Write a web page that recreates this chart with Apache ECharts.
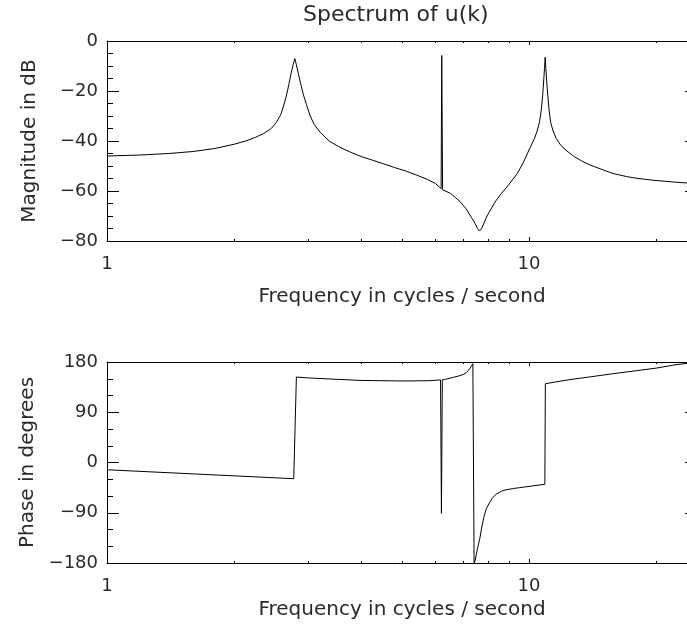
<!DOCTYPE html>
<html>
<head>
<meta charset="utf-8">
<title>Spectrum of u(k)</title>
<script src="https://cdn.jsdelivr.net/npm/echarts@6/dist/echarts.min.js"></script>
<style>
html, body { margin: 0; padding: 0; background: #fff; }
#main { width: 687px; height: 626px; }
</style>
</head>
<body>
<div id="main"></div>
<script>
// frequency axis (log)
var freqMin = 1;
var freqMax = 25;
var freqLabels = [1, 10];
var freqMinor = [2, 3, 4, 5, 6, 7, 8, 9, 20];

// magnitude panel
var magMin = -80, magMax = 0, magStep = 20, magMinorSplit = 4;
var magFreq = [1.0, 1.2, 1.4, 1.6, 1.8, 2.0, 2.13, 2.25, 2.35, 2.45, 2.52, 2.58, 2.62, 2.66, 2.7, 2.73, 2.76, 2.786,
	2.81, 2.84, 2.88, 2.92, 2.97, 3.03, 3.1, 3.2, 3.36, 3.56, 3.78, 4.0, 4.26, 4.5, 4.8, 5.1, 5.41, 5.75, 6.0, 6.19, 6.21, 6.24,
	6.52, 6.87, 7.1, 7.3, 7.45, 7.55, 7.63, 7.72, 7.82, 7.95, 8.1, 8.3, 8.54, 8.9, 9.38, 9.7, 10.06, 10.3, 10.45, 10.6, 10.7,
	10.78, 10.84, 10.88, 10.92, 10.96, 11.01, 11.08, 11.16, 11.25, 11.4, 11.6, 11.9, 12.3, 12.8, 13.4, 14.0, 15.0, 15.8,
	17.0, 17.8, 19.0, 20.0, 22.0, 25.0];
var magDb = [-46.0, -45.6, -45.0, -44.2, -43.0, -41.3, -40.0, -38.5, -37.0, -35.0, -32.5, -29.5, -26.0, -22.0, -17.0, -13.0, -9.5, -7.0,
	-9.5, -13.0, -17.5, -21.5, -25.5, -30.0, -33.5, -36.5, -40.0, -42.5, -44.5, -46.2, -47.7, -49.0, -50.6, -52.0, -53.6, -55.4, -57.0, -59.0, -5.8, -59.5,
	-61.0, -64.3, -67.2, -70.5, -73.0, -75.0, -76.0, -75.0, -72.8, -70.0, -67.6, -64.5, -61.6, -58.0, -53.0, -48.5, -42.6, -39.0, -36.0, -32.0, -27.0,
	-21.0, -15.0, -11.0, -6.5, -11.0, -16.0, -22.0, -28.0, -32.5, -36.0, -39.0, -41.8, -44.0, -46.3, -48.2, -49.7, -51.6, -53.0,
	-54.2, -54.8, -55.4, -55.8, -56.4, -57.1];

// phase panel
var phaseMin = -180, phaseMax = 180, phaseStep = 90, phaseMinorSplit = 3;
var phaseFreq = [1.0, 1.5, 2.0, 2.5, 2.77, 2.81, 3.0, 3.5, 4.0, 5.0, 5.8, 6.17, 6.2, 6.23, 6.34, 6.63, 6.85, 7.0, 7.1, 7.18, 7.25, 7.3, 7.36, 7.4,
	7.41, 7.45, 7.5, 7.56, 7.65, 7.73, 7.82, 7.92, 8.06, 8.2, 8.37, 8.6, 8.8, 9.2, 9.5, 10.2, 10.9, 10.93,
	11.5, 12.5, 14.0, 15.8, 18.0, 20.0, 22.0, 25.0];
var phaseDeg = [-13, -19.4, -23.9, -27.4, -29, 153, 151.5, 149, 147, 146, 146.5, 148, -91, 148, 149, 152.7, 155.5, 158, 161, 165, 168.5, 172, 177, 180,
	-180, -176, -165, -152, -135, -115, -97, -83, -72, -63, -56.5, -51.5, -49, -46.5, -45, -42, -39, 141,
	144, 148.5, 153.5, 159, 164.5, 169, 174.5, 180];

var FONT = 'DejaVu Sans';
var INK = '#000';
var TEXT = '#2a2a2a';

var zip = function(xs, ys) {
	var out = [];
	for (var i = 0; i < xs.length; i++) out.push([xs[i], ys[i]]);
	return out;
};

var minusFmt = function(v) {
	return String(v).replace('-', '\u2212');
};

var textStyle = function(size) {
	return {color: TEXT, fontSize: size, fontFamily: FONT, fontWeight: 'normal'};
};

// 4 x axes per panel: bottom major/minor, top major/minor
var freqAxes = function(gridIndex, nameGap) {
	var mk = function(pos, ticks, len, showLine, label) {
		var a = {
			gridIndex: gridIndex, type: 'log', logBase: 10, min: freqMin, max: freqMax, position: pos,
			splitLine: {show: false},
			axisLine: {show: showLine, onZero: false, lineStyle: {color: INK, width: 1}},
			axisTick: {show: true, inside: true, length: len, customValues: ticks, lineStyle: {color: INK, width: 1}},
			axisLabel: {show: false}
		};
		if (label) {
			a.axisLabel = Object.assign({show: true, customValues: freqLabels, margin: 14, formatter: function(v) { return String(v); }}, textStyle(18));
			a.name = 'Frequency in cycles / second';
			a.nameLocation = 'middle';
			a.nameGap = nameGap;
			a.nameTextStyle = textStyle(20);
		}
		return a;
	};
	return [
		mk('bottom', freqLabels, 4, true, true),
		mk('bottom', freqMinor, 2, false, false),
		mk('top', freqLabels, 4, true, false),
		mk('top', freqMinor, 2, false, false)
	];
};

// left (labelled) and right (mirror) y axes
var valueAxes = function(gridIndex, min, max, step, minorSplit, name) {
	var mk = function(pos, label) {
		var a = {
			gridIndex: gridIndex, type: 'value', min: min, max: max, interval: step, position: pos,
			splitLine: {show: false},
			axisLine: {show: true, onZero: false, lineStyle: {color: INK, width: 1}},
			axisTick: {show: true, inside: true, length: 12, lineStyle: {color: INK, width: 1}},
			minorTick: {show: true, splitNumber: minorSplit, length: 6, lineStyle: {color: INK, width: 1}},
			axisLabel: {show: false}
		};
		if (label) {
			a.axisLabel = Object.assign({show: true, margin: 9, formatter: minusFmt}, textStyle(18));
			a.name = name;
			a.nameLocation = 'middle';
			a.nameGap = 67;
			a.nameTextStyle = textStyle(20);
		}
		return a;
	};
	return [mk('left', true), mk('right', false)];
};

var lineSeries = function(xIdx, yIdx, data) {
	return {
		type: 'line', xAxisIndex: xIdx, yAxisIndex: yIdx, data: data,
		symbol: 'none', silent: true, clip: true,
		lineStyle: {color: INK, width: 1}
	};
};

var option = {
	backgroundColor: '#fff',
	animation: false,
	title: {
		text: 'Spectrum of u(k)', left: 303, top: 4, padding: 0,
		textStyle: textStyle(22)
	},
	grid: [
		{left: 107, top: 41, width: 590, height: 200, containLabel: false, outerBoundsMode: 'none'},
		{left: 107, top: 362, width: 590, height: 201, containLabel: false, outerBoundsMode: 'none'}
	],
	xAxis: freqAxes(0, 46).concat(freqAxes(1, 37)),
	yAxis: valueAxes(0, magMin, magMax, magStep, magMinorSplit, 'Magnitude in dB')
		.concat(valueAxes(1, phaseMin, phaseMax, phaseStep, phaseMinorSplit, 'Phase in degrees')),
	series: [
		lineSeries(0, 0, zip(magFreq, magDb)),
		lineSeries(4, 2, zip(phaseFreq, phaseDeg))
	]
};

var myChart = echarts.init(document.getElementById('main'), null, {renderer: 'canvas'});
myChart.setOption(option);
</script>
</body>
</html>
